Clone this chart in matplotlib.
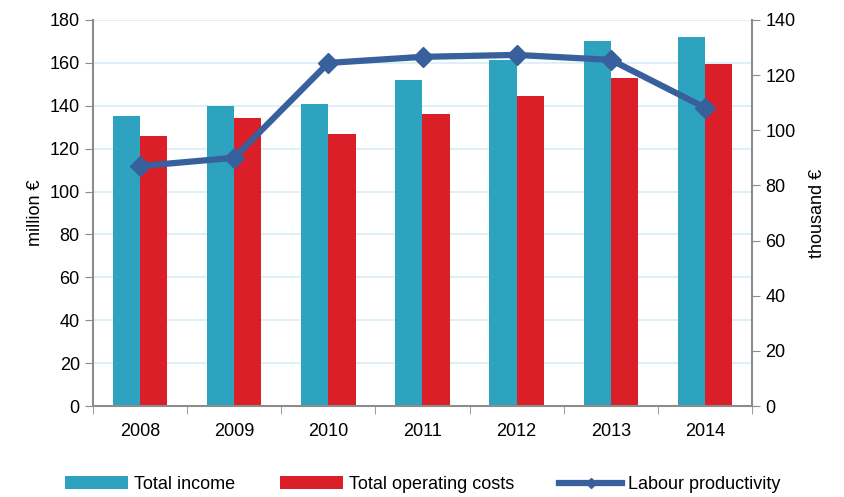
import numpy as np
import matplotlib
matplotlib.use("Agg")
import matplotlib.pyplot as plt

plt.rcParams['font.family'] = ['Liberation Sans Narrow', 'Liberation Sans', 'DejaVu Sans']

years = ['2008', '2009', '2010', '2011', '2012', '2013', '2014']
total_income = [135.3, 140.0, 141.0, 152.0, 161.5, 170.0, 171.8]
operating_costs = [126.0, 134.3, 127.0, 136.2, 144.6, 153.0, 159.5]
labour_productivity = [87.0, 90.0, 124.4, 126.6, 127.3, 125.5, 108.2]

col_income = '#2da3bf'
col_costs = '#da1f28'
col_line = '#37609c'
col_axis = '#8c8c8c'

fig = plt.figure(figsize=(8.45, 4.97), dpi=100)
ax = fig.add_axes([0.110, 0.183, 0.780, 0.777])
x = np.arange(len(years))
w = 0.29

ax.bar(x - w / 2, total_income, w, color=col_income, label='Total income', zorder=2)
ax.bar(x + w / 2, operating_costs, w, color=col_costs, label='Total operating costs', zorder=2)

ax.set_xlim(-0.5, len(years) - 0.5)
ax.set_ylim(0, 180)
ax.set_yticks(range(0, 181, 20))
ax.yaxis.grid(True, color='#d5edf6', lw=1.2, zorder=0)
ax.set_axisbelow(True)
ax.set_xticks(x)
ax.set_xticklabels(years, fontsize=13)
ax.set_xticks(np.arange(-0.5, len(years), 1), minor=True)
ax.tick_params(axis='x', which='major', length=0, pad=12)
ax.tick_params(axis='x', which='minor', length=6, color=col_axis)
ax.tick_params(axis='y', labelsize=13, length=6, color=col_axis)
ax.set_ylabel('million €', fontsize=13)
for s in ['top', 'right']:
    ax.spines[s].set_visible(False)
for s in ['left', 'bottom']:
    ax.spines[s].set_color(col_axis)
    ax.spines[s].set_linewidth(1.5)

ax2 = ax.twinx()
ax2.plot(x, labour_productivity, color=col_line, lw=4.5, marker='D', ms=10,
         label='Labour productivity', zorder=3)
ax2.set_ylim(0, 140)
ax2.set_yticks(range(0, 141, 20))
ax2.tick_params(axis='y', labelsize=13, length=6, color=col_axis)
ax2.set_ylabel('thousand €', fontsize=13, rotation=90, labelpad=10)
for s in ['top', 'left', 'bottom']:
    ax2.spines[s].set_visible(False)
ax2.spines['right'].set_color(col_axis)
ax2.spines['right'].set_linewidth(1.5)

h1, l1 = ax.get_legend_handles_labels()
h2, l2 = ax2.get_legend_handles_labels()
fig.legend(h1 + h2, l1 + l2, loc='center', bbox_to_anchor=(0.5, 0.025), ncol=3,
           frameon=False, fontsize=13, handlelength=3.5, columnspacing=2.5,
           handletextpad=0.3, markerscale=0.5)

fig.savefig('out.png', dpi=100)
